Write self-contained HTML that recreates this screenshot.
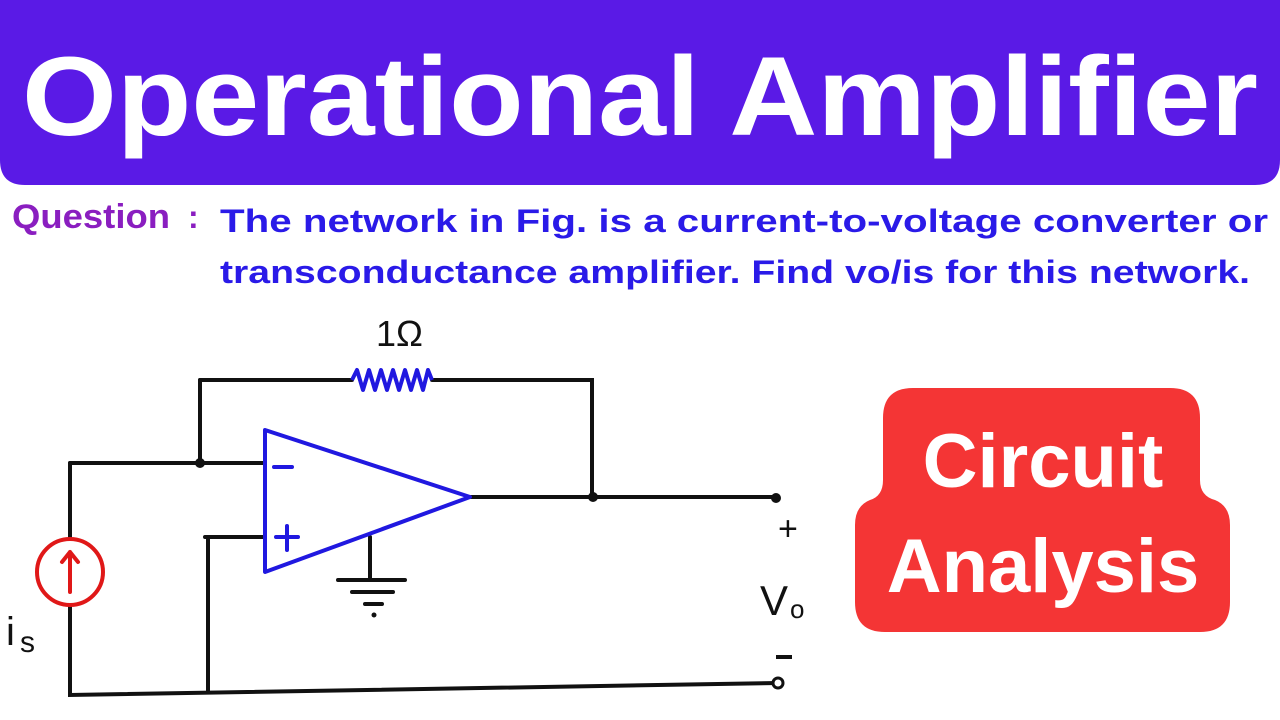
<!DOCTYPE html>
<html><head><meta charset="utf-8"><style>
html,body{margin:0;padding:0;background:#fff;width:1280px;height:720px;overflow:hidden}
svg{display:block}
</style></head><body>
<svg width="1280" height="720" viewBox="0 0 1280 720" xmlns="http://www.w3.org/2000/svg">
<rect width="1280" height="720" fill="#fff"/>
<path d="M0 0 H1280 V160 Q1280 185 1255 185 H25 Q0 185 0 160 Z" fill="#5a1ae6"/>
<text x="640" y="135" text-anchor="middle" font-family="Liberation Sans, sans-serif" font-weight="bold" font-size="112" fill="#fff" textLength="1236" lengthAdjust="spacingAndGlyphs">Operational Amplifier</text>
<text x="12" y="228" font-family="Liberation Sans, sans-serif" font-weight="bold" font-size="34" fill="#8a1ec0" textLength="158" lengthAdjust="spacingAndGlyphs">Question</text>
<text x="188" y="228" font-family="Liberation Sans, sans-serif" font-weight="bold" font-size="32" fill="#8a1ec0">:</text>
<text x="220" y="232" font-family="Liberation Sans, sans-serif" font-weight="bold" font-size="32" fill="#2a1ae8" textLength="1048" lengthAdjust="spacingAndGlyphs">The network in Fig. is a current-to-voltage converter or</text>
<text x="220" y="283" font-family="Liberation Sans, sans-serif" font-weight="bold" font-size="32" fill="#2a1ae8" textLength="1030" lengthAdjust="spacingAndGlyphs">transconductance amplifier. Find vo/is for this network.</text>

<g stroke="#111" stroke-width="4" fill="none" stroke-linecap="round">
<path d="M200 380 H352 M432 380 H592 V497"/>
<path d="M200 380 V463"/>
<path d="M70 463 H265"/>
<path d="M470 497 H775"/>
<path d="M205 537 H265 M208 537 V692"/>
<path d="M70 463 V539 M70 605 V695 L778 683"/>
<path d="M370 537 V580 M338 580 H405 M352 592 H393 M365 604 H382"/>
</g>
<circle cx="200" cy="463" r="5" fill="#111"/>
<circle cx="593" cy="497" r="5" fill="#111"/>
<circle cx="776" cy="498" r="5" fill="#111"/>
<circle cx="778" cy="683" r="5" fill="#fff" stroke="#111" stroke-width="3"/>
<circle cx="374" cy="615" r="2.5" fill="#111"/>
<path d="M352 380 L357 370 L363 390 L369 370 L375 390 L381 370 L387 390 L393 370 L399 390 L405 370 L411 390 L417 370 L423 390 L428 370 L432 380" stroke="#2018e0" stroke-width="4" fill="none" stroke-linejoin="round"/>
<path d="M265 430 L470 497 L265 572 Z" stroke="#2018e0" stroke-width="4" fill="#fff" stroke-linejoin="round"/>
<path d="M274 467 H292 M276 537 H298 M287 526 V550" stroke="#2018e0" stroke-width="4" stroke-linecap="round"/>
<circle cx="70" cy="572" r="33" stroke="#e01818" stroke-width="4" fill="none"/>
<path d="M70 592 V552 M62 562 L70 552 L78 562" stroke="#e01818" stroke-width="4" fill="none" stroke-linecap="round" stroke-linejoin="round"/>
<text x="376" y="346" font-family="Liberation Sans, sans-serif" font-size="36" fill="#111">1Ω</text>
<text x="778" y="540" font-family="Liberation Sans, sans-serif" font-size="34" fill="#111">+</text>
<text x="760" y="615" font-family="Liberation Sans, sans-serif" font-size="42" fill="#111">V</text>
<text x="790" y="618" font-family="Liberation Sans, sans-serif" font-size="26" fill="#111">o</text>
<path d="M776 657 H792" stroke="#111" stroke-width="4"/>
<text x="6" y="645" font-family="Liberation Sans, sans-serif" font-size="40" fill="#111">i</text>
<text x="20" y="652" font-family="Liberation Sans, sans-serif" font-size="30" fill="#111">s</text>

<path d="M913 388 H1170 Q1200 388 1200 418 V480 Q1200 496 1215 500 Q1230 506 1230 525 V602 Q1230 632 1200 632 H885 Q855 632 855 602 V525 Q855 506 870 500 Q883 496 883 480 V418 Q883 388 913 388 Z" fill="#f43535"/>
<text x="1043" y="487" text-anchor="middle" font-family="Liberation Sans, sans-serif" font-weight="bold" font-size="76" fill="#fff">Circuit</text>
<text x="1043" y="592" text-anchor="middle" font-family="Liberation Sans, sans-serif" font-weight="bold" font-size="76" fill="#fff">Analysis</text>
</svg>
</body></html>
